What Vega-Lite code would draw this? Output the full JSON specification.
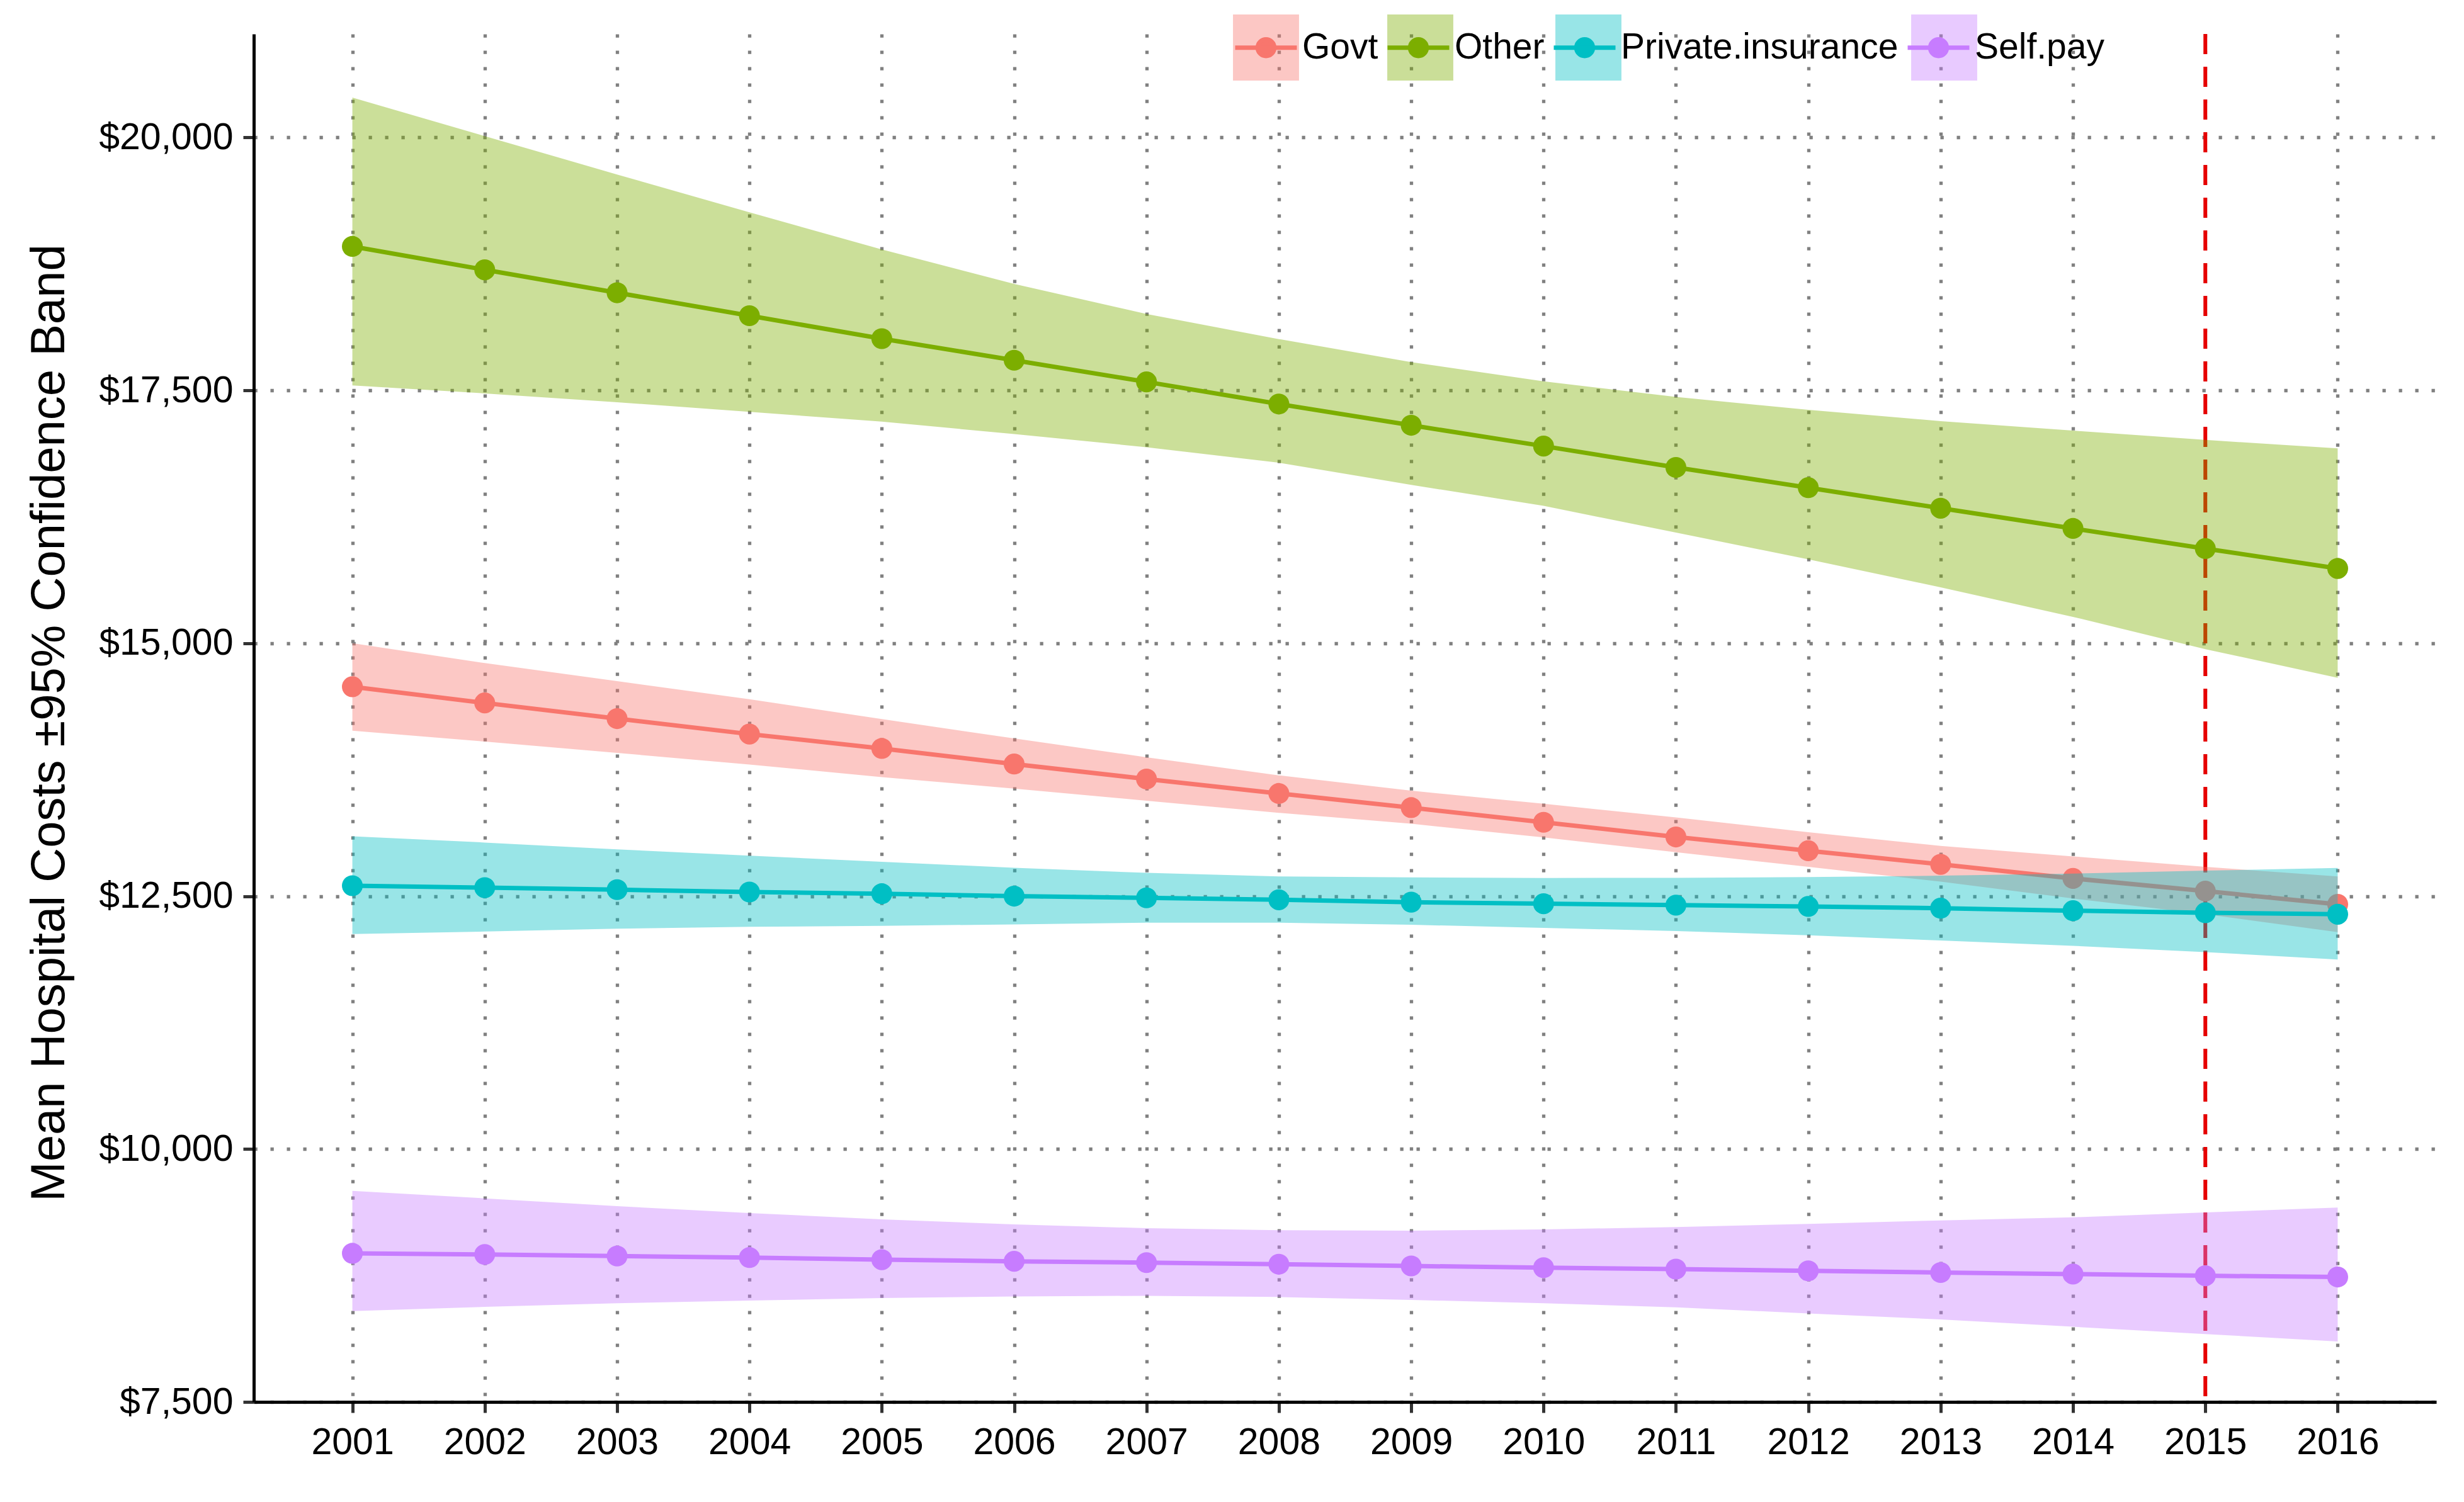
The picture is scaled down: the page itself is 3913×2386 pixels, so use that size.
{
  "$schema": "https://vega.github.io/schema/vega-lite/v6.json",
  "width": 3466,
  "height": 2173,
  "autosize": "none",
  "padding": {"left": 403, "top": 54, "right": 44, "bottom": 159},
  "background": "#ffffff",
  "config": {
    "view": {"stroke": null},
    "font": "Liberation Sans"
  },
  "data": {
    "values": [
      {"year": 2001, "group": "Govt", "mean": 14570, "lower": 14136, "upper": 15000},
      {"year": 2002, "group": "Govt", "mean": 14410, "lower": 14028, "upper": 14804},
      {"year": 2003, "group": "Govt", "mean": 14255, "lower": 13916, "upper": 14625},
      {"year": 2004, "group": "Govt", "mean": 14102, "lower": 13801, "upper": 14446},
      {"year": 2005, "group": "Govt", "mean": 13960, "lower": 13677, "upper": 14250},
      {"year": 2006, "group": "Govt", "mean": 13806, "lower": 13563, "upper": 14059},
      {"year": 2007, "group": "Govt", "mean": 13658, "lower": 13443, "upper": 13873},
      {"year": 2008, "group": "Govt", "mean": 13515, "lower": 13324, "upper": 13694},
      {"year": 2009, "group": "Govt", "mean": 13375, "lower": 13216, "upper": 13542},
      {"year": 2010, "group": "Govt", "mean": 13230, "lower": 13080, "upper": 13413},
      {"year": 2011, "group": "Govt", "mean": 13085, "lower": 12935, "upper": 13278},
      {"year": 2012, "group": "Govt", "mean": 12949, "lower": 12789, "upper": 13132},
      {"year": 2013, "group": "Govt", "mean": 12814, "lower": 12643, "upper": 12997},
      {"year": 2014, "group": "Govt", "mean": 12675, "lower": 12477, "upper": 12893},
      {"year": 2015, "group": "Govt", "mean": 12550, "lower": 12321, "upper": 12789},
      {"year": 2016, "group": "Govt", "mean": 12419, "lower": 12144, "upper": 12695},
      {"year": 2001, "group": "Other", "mean": 18923, "lower": 17549, "upper": 20394},
      {"year": 2002, "group": "Other", "mean": 18692, "lower": 17470, "upper": 20014},
      {"year": 2003, "group": "Other", "mean": 18465, "lower": 17383, "upper": 19634},
      {"year": 2004, "group": "Other", "mean": 18238, "lower": 17287, "upper": 19260},
      {"year": 2005, "group": "Other", "mean": 18011, "lower": 17191, "upper": 18893},
      {"year": 2006, "group": "Other", "mean": 17798, "lower": 17068, "upper": 18552},
      {"year": 2007, "group": "Other", "mean": 17584, "lower": 16938, "upper": 18255},
      {"year": 2008, "group": "Other", "mean": 17365, "lower": 16785, "upper": 18007},
      {"year": 2009, "group": "Other", "mean": 17155, "lower": 16566, "upper": 17779},
      {"year": 2010, "group": "Other", "mean": 16949, "lower": 16358, "upper": 17590},
      {"year": 2011, "group": "Other", "mean": 16738, "lower": 16094, "upper": 17435},
      {"year": 2012, "group": "Other", "mean": 16538, "lower": 15830, "upper": 17307},
      {"year": 2013, "group": "Other", "mean": 16335, "lower": 15553, "upper": 17196},
      {"year": 2014, "group": "Other", "mean": 16135, "lower": 15261, "upper": 17102},
      {"year": 2015, "group": "Other", "mean": 15936, "lower": 14942, "upper": 17010},
      {"year": 2016, "group": "Other", "mean": 15739, "lower": 14658, "upper": 16927},
      {"year": 2001, "group": "Private.insurance", "mean": 12603, "lower": 12125, "upper": 13092},
      {"year": 2002, "group": "Private.insurance", "mean": 12584, "lower": 12150, "upper": 13030},
      {"year": 2003, "group": "Private.insurance", "mean": 12564, "lower": 12178, "upper": 12963},
      {"year": 2004, "group": "Private.insurance", "mean": 12541, "lower": 12197, "upper": 12900},
      {"year": 2005, "group": "Private.insurance", "mean": 12524, "lower": 12206, "upper": 12840},
      {"year": 2006, "group": "Private.insurance", "mean": 12500, "lower": 12221, "upper": 12780},
      {"year": 2007, "group": "Private.insurance", "mean": 12483, "lower": 12237, "upper": 12730},
      {"year": 2008, "group": "Private.insurance", "mean": 12464, "lower": 12237, "upper": 12695},
      {"year": 2009, "group": "Private.insurance", "mean": 12440, "lower": 12217, "upper": 12685},
      {"year": 2010, "group": "Private.insurance", "mean": 12425, "lower": 12186, "upper": 12680},
      {"year": 2011, "group": "Private.insurance", "mean": 12411, "lower": 12155, "upper": 12681},
      {"year": 2012, "group": "Private.insurance", "mean": 12398, "lower": 12113, "upper": 12688},
      {"year": 2013, "group": "Private.insurance", "mean": 12381, "lower": 12061, "upper": 12702},
      {"year": 2014, "group": "Private.insurance", "mean": 12356, "lower": 12009, "upper": 12723},
      {"year": 2015, "group": "Private.insurance", "mean": 12336, "lower": 11947, "upper": 12752},
      {"year": 2016, "group": "Private.insurance", "mean": 12321, "lower": 11874, "upper": 12779},
      {"year": 2001, "group": "Self.pay", "mean": 8969, "lower": 8398, "upper": 9587},
      {"year": 2002, "group": "Self.pay", "mean": 8958, "lower": 8440, "upper": 9512},
      {"year": 2003, "group": "Self.pay", "mean": 8942, "lower": 8475, "upper": 9435},
      {"year": 2004, "group": "Self.pay", "mean": 8927, "lower": 8502, "upper": 9367},
      {"year": 2005, "group": "Self.pay", "mean": 8906, "lower": 8527, "upper": 9305},
      {"year": 2006, "group": "Self.pay", "mean": 8890, "lower": 8543, "upper": 9255},
      {"year": 2007, "group": "Self.pay", "mean": 8877, "lower": 8549, "upper": 9217},
      {"year": 2008, "group": "Self.pay", "mean": 8861, "lower": 8537, "upper": 9197},
      {"year": 2009, "group": "Self.pay", "mean": 8844, "lower": 8508, "upper": 9193},
      {"year": 2010, "group": "Self.pay", "mean": 8827, "lower": 8476, "upper": 9205},
      {"year": 2011, "group": "Self.pay", "mean": 8813, "lower": 8435, "upper": 9229},
      {"year": 2012, "group": "Self.pay", "mean": 8796, "lower": 8375, "upper": 9260},
      {"year": 2013, "group": "Self.pay", "mean": 8779, "lower": 8315, "upper": 9294},
      {"year": 2014, "group": "Self.pay", "mean": 8764, "lower": 8243, "upper": 9325},
      {"year": 2015, "group": "Self.pay", "mean": 8747, "lower": 8171, "upper": 9373},
      {"year": 2016, "group": "Self.pay", "mean": 8735, "lower": 8098, "upper": 9422}
    ]
  },
  "encoding": {
    "x": {
      "field": "year",
      "type": "quantitative",
      "scale": {"domain": [2000.255, 2016.745], "nice": false, "zero": false},
      "axis": {
        "title": null,
        "values": [2001, 2002, 2003, 2004, 2005, 2006, 2007, 2008, 2009, 2010, 2011, 2012, 2013, 2014, 2015, 2016],
        "format": "d",
        "grid": true,
        "gridColor": "#808080",
        "gridWidth": 5.3,
        "gridDash": [5.3, 20.7],
        "domainColor": "#000000",
        "domainWidth": 5,
        "tickColor": "#333333",
        "tickWidth": 5,
        "tickSize": 17,
        "labelFont": "Liberation Sans",
        "labelFontSize": 59,
        "labelColor": "#000000",
        "labelPadding": 18,
        "labelLimit": 1000,
        "labelFlush": false,
        "labelOverlap": false
      }
    }
  },
  "layer": [
    {
      "data": {"values": [{"year": 2015}]},
      "mark": {"type": "rule", "color": "#e60000", "strokeWidth": 6, "strokeDash": [32, 20]},
      "encoding": {"x": {"field": "year", "type": "quantitative"}}
    },
    {
      "transform": [{"filter": {"field": "group", "oneOf": ["Govt", "Other"]}}],
      "mark": {"type": "area", "opacity": 0.4},
      "encoding": {
        "y": {
          "field": "lower",
          "type": "quantitative",
          "scale": {"domain": [7500, 21023], "nice": false, "zero": false},
          "axis": {
            "title": "Mean Hospital Costs \u00b195% Confidence Band",
            "titleFont": "Liberation Sans",
            "titleFontSize": 76,
            "titleFontWeight": "normal",
            "titleColor": "#000000",
            "titleAngle": 270,
            "titleAlign": "center",
            "titleBaseline": "alphabetic",
            "titleX": -302,
            "titleY": 1094,
            "values": [7500, 10000, 12500, 15000, 17500, 20000],
            "format": "$,.0f",
            "grid": true,
            "gridColor": "#808080",
            "gridWidth": 5.3,
            "gridDash": [5.3, 20.7],
            "domainColor": "#000000",
            "domainWidth": 5,
            "tickColor": "#333333",
            "tickWidth": 5,
            "tickSize": 17,
            "labelFont": "Liberation Sans",
            "labelFontSize": 59,
            "labelColor": "#000000",
            "labelPadding": 16,
            "labelLimit": 1000,
            "labelFlush": false,
            "labelOverlap": false
          }
        },
        "y2": {"field": "upper"},
        "fill": {
          "field": "group",
          "type": "nominal",
          "scale": {
            "domain": ["Govt", "Other", "Private.insurance", "Self.pay"],
            "range": ["#F8766D", "#7CAE00", "#00BFC4", "#C77CFF"]
          },
          "legend": {
            "title": null,
            "orient": "none",
            "legendX": 1555,
            "legendY": -31,
            "direction": "horizontal",
            "padding": 0,
            "symbolType": "M-1.07,-1.07L1.07,-1.07L1.07,1.07L-1.07,1.07Z",
            "symbolSize": 9604,
            "symbolStrokeWidth": 7,
            "symbolStrokeColor": "transparent",
            "symbolOpacity": 0.4,
            "labelFont": "Liberation Sans",
            "labelFontSize": 57,
            "labelOffset": 5,
            "labelLimit": 1000,
            "labelOpacity": 0,
            "columnPadding": 0,
            "zindex": 1
          }
        }
      }
    },
    {
      "transform": [{"filter": {"field": "group", "oneOf": ["Govt", "Other"]}}],
      "mark": {"type": "line", "strokeWidth": 7},
      "encoding": {
        "y": {"field": "mean", "type": "quantitative"},
        "color": {
          "field": "group",
          "type": "nominal",
          "scale": {"range": ["#F8766D", "#7CAE00", "#00BFC4", "#C77CFF"]},
          "legend": {
            "title": null,
            "orient": "none",
            "legendX": 1555,
            "legendY": -31,
            "direction": "horizontal",
            "padding": 0,
            "symbolType": "M-1,0L1,0M-0.27,0A0.27,0.27,0,1,0,0.27,0A0.27,0.27,0,1,0,-0.27,0Z",
            "symbolSize": 9604,
            "symbolStrokeWidth": 7,
            "labelFont": "Liberation Sans",
            "labelFontSize": 57,
            "labelColor": "#000000",
            "labelOffset": 5,
            "labelLimit": 1000,
            "columnPadding": 0,
            "zindex": 2
          }
        }
      }
    },
    {
      "transform": [{"filter": {"field": "group", "oneOf": ["Govt", "Other"]}}],
      "mark": {"type": "circle", "size": 1100, "opacity": 1},
      "encoding": {
        "y": {"field": "mean", "type": "quantitative"},
        "color": {"field": "group", "type": "nominal"}
      }
    },
    {
      "transform": [{"filter": {"field": "group", "oneOf": ["Private.insurance", "Self.pay"]}}],
      "mark": {"type": "area", "opacity": 0.4},
      "encoding": {
        "y": {"field": "lower", "type": "quantitative"},
        "y2": {"field": "upper"},
        "fill": {"field": "group", "type": "nominal"}
      }
    },
    {
      "transform": [{"filter": {"field": "group", "oneOf": ["Private.insurance", "Self.pay"]}}],
      "mark": {"type": "line", "strokeWidth": 7},
      "encoding": {
        "y": {"field": "mean", "type": "quantitative"},
        "color": {"field": "group", "type": "nominal"}
      }
    },
    {
      "transform": [{"filter": {"field": "group", "oneOf": ["Private.insurance", "Self.pay"]}}],
      "mark": {"type": "circle", "size": 1100, "opacity": 1},
      "encoding": {
        "y": {"field": "mean", "type": "quantitative"},
        "color": {"field": "group", "type": "nominal"}
      }
    }
  ]
}
